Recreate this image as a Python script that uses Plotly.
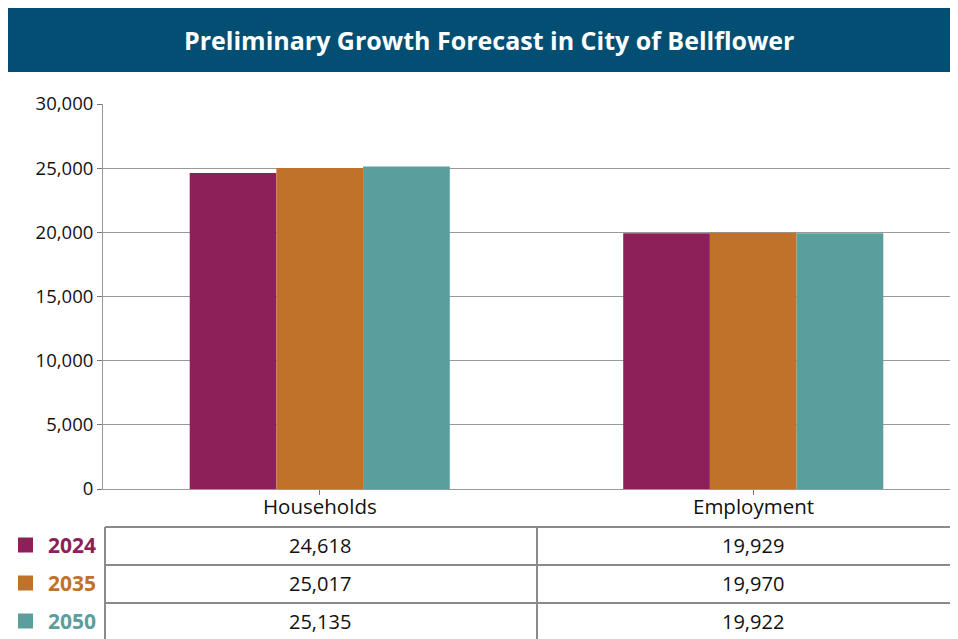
import plotly.graph_objects as go

categories = ["Households", "Employment"]
years = ["2024", "2035", "2050"]
values_2024 = [24618, 19929]
values_2035 = [25017, 19970]
values_2050 = [25135, 19922]
series_values = [values_2024, values_2035, values_2050]
colors = ["#8C2159", "#C0722A", "#5A9F9D"]
y_tick_vals = [0, 5000, 10000, 15000, 20000, 25000, 30000]

OFF = 8  # page body margin
W, H = 958, 639 - OFF
L, R, T = 103 - OFF, 0, 104 - OFF
B = H - (489 - OFF)
FONT = "Open Sans"

def py(p):
    # reference pixel y -> paper y
    p = p - OFF
    return (H - B - p) / (H - T - B)

def px(p):
    p = p - OFF
    return (p - L) / (W - L - R)

fig = go.Figure()
xs = list(range(len(categories)))
for yr, vals, col in zip(years, series_values, colors):
    fig.add_trace(go.Bar(x=xs, y=vals, name=yr, marker=dict(color=col, line=dict(width=0)),
                         hoverinfo="y"))

shapes = []
annotations = []
# title band
shapes.append(dict(type="rect", xref="paper", yref="paper", x0=px(8), x1=px(980),
                   y0=py(72), y1=py(8), fillcolor="#034F74", line=dict(width=0), layer="above"))
annotations.append(dict(text="<b>Preliminary Growth Forecast in City of Bellflower</b>",
                        xref="paper", yref="paper", x=px(489), y=py(40), showarrow=False,
                        xanchor="center", yanchor="middle",
                        font=dict(family=FONT, size=25, color="white")))

# category labels
for j, c in enumerate(categories):
    annotations.append(dict(text=c, xref="x", yref="paper", x=xs[j], y=py(506), showarrow=False,
                            xanchor="center", yanchor="middle",
                            font=dict(family=FONT, size=20.5, color="#111111")))

# table
row_tops = [527, 565, 603, 641]
line_col = "#8a8a8a"
for rt in row_tops:
    shapes.append(dict(type="line", xref="paper", yref="paper", x0=px(105), x1=px(980),
                       y0=py(rt), y1=py(rt), line=dict(color=line_col, width=2)))
for vx in [105, 537]:
    shapes.append(dict(type="line", xref="paper", yref="paper", x0=px(vx), x1=px(vx),
                       y0=py(527), y1=py(645), line=dict(color=line_col, width=2)))

for i, (yr, vals, col) in enumerate(zip(years, series_values, colors)):
    cy = (row_tops[i] + row_tops[i + 1]) / 2 - 1
    shapes.append(dict(type="rect", xref="paper", yref="paper", x0=px(18), x1=px(33),
                       y0=py(cy + 7.5), y1=py(cy - 7.5), fillcolor=col, line=dict(width=0)))
    annotations.append(dict(text="<b>%s</b>" % yr, xref="paper", yref="paper", x=px(72), y=py(cy),
                            showarrow=False, xanchor="center", yanchor="middle",
                            font=dict(family=FONT, size=21, color=col)))
    for j, v in enumerate(vals):
        annotations.append(dict(text=f"{v:,}", xref="x", yref="paper", x=xs[j], y=py(cy),
                                showarrow=False, xanchor="center", yanchor="middle",
                                font=dict(family=FONT, size=20, color="#111111")))

fig.update_layout(
    width=W, height=H, margin=dict(l=L, r=R, t=T, b=B, pad=0),
    paper_bgcolor="white", plot_bgcolor="white",
    barmode="group", bargap=0.4, bargroupgap=0,
    showlegend=False,
    font=dict(family=FONT, color="#111111"),
    shapes=shapes, annotations=annotations,
    xaxis=dict(tickvals=xs, ticktext=categories, range=[-0.5, -0.5 + (W - L - R) / 433.5],
               showline=True, linecolor="#999999", linewidth=1, ticks="outside", ticklen=5,
               tickcolor="#777777", showticklabels=False,
               showgrid=False, zeroline=False, fixedrange=True),
    yaxis=dict(range=[0, 30000], tickvals=y_tick_vals, tickformat=",d",
               showline=True, linecolor="#999999", linewidth=1, ticks="outside", ticklen=5,
               tickcolor="#777777", tickfont=dict(size=18.5, family=FONT, color="#111111"),
               showgrid=True, gridcolor="#999999", gridwidth=1, zeroline=False, fixedrange=True),
)

fig.write_html("out.html")
